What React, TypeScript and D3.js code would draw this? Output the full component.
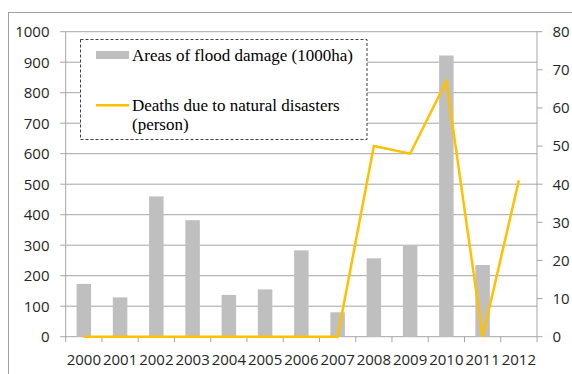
import React from "react";
import * as d3 from "d3";

const years = ["2000","2001","2002","2003","2004","2005","2006","2007","2008","2009","2010","2011","2012"];
const floodArea = [173, 129, 460, 382, 137, 155, 283, 80, 257, 298, 922, 235, 0];
const deaths = [0, 0, 0, 0, 0, 0, 0, 0, 50, 48, 67, 0, 41];
const leftTicks = [0, 100, 200, 300, 400, 500, 600, 700, 800, 900, 1000];
const rightTicks = [0, 10, 20, 30, 40, 50, 60, 70, 80];
const legendLabels = ["Areas of flood damage (1000ha)", "Deaths due to natural disasters", "(person)"];

const W = 572, H = 374;
const L = 65.7, R = 537, T = 31.7, B = 336.7;

export default function App() {
  const x = d3.scaleBand<string>().domain(years).range([L, R]).padding(0);
  const yL = d3.scaleLinear().domain([0, 1000]).range([B, T]);
  const yR = d3.scaleLinear().domain([0, 80]).range([B, T]);
  const bw = x.bandwidth() * 0.4;
  const line = d3.line<number>()
    .x((_, i) => (x(years[i]) as number) + x.bandwidth() / 2)
    .y((d) => yR(d));
  const axisFont = "'Open Sans', 'Liberation Sans', sans-serif";
  const serif = "'Liberation Serif', 'Times New Roman', serif";
  const gridColor = "#a6a6a6";
  const fs = 15;
  return (
    <div style={{ position: "absolute", left: 0, top: 0 }}>
      <svg width={W} height={H} style={{ display: "block" }}>
        <rect x={0} y={0} width={W} height={H} fill="#fff" />
        <rect x={8.5} y={12.5} width={W} height={H} fill="none" stroke="#a0a0a0" strokeWidth={1} />
        {leftTicks.filter((t) => t > 0).map((t) => (
          <line key={"g" + t} x1={L} x2={R} y1={yL(t)} y2={yL(t)} stroke={gridColor} strokeWidth={1} />
        ))}
        {/* axes */}
        <line x1={L} x2={L} y1={T} y2={B} stroke={gridColor} />
        <line x1={R} x2={R} y1={T} y2={B} stroke={gridColor} />
        <line x1={L} x2={R} y1={B} y2={B} stroke={gridColor} />
        {leftTicks.map((t) => (
          <g key={"lt" + t}>
            <line x1={L - 5.5} x2={L} y1={yL(t)} y2={yL(t)} stroke={gridColor} />
            <text x={49.5} y={yL(t)} dy="0.36em" textAnchor="end" fontFamily={axisFont} fontSize={fs} fill="#262626">{t}</text>
          </g>
        ))}
        {rightTicks.map((t) => (
          <g key={"rt" + t}>
            <line x1={R} x2={R + 5.5} y1={yR(t)} y2={yR(t)} stroke={gridColor} />
            <text x={552.5} y={yR(t)} dy="0.36em" textAnchor="start" fontFamily={axisFont} fontSize={fs} fill="#262626">{t}</text>
          </g>
        ))}
        {years.map((yr) => (
          <g key={"xt" + yr}>
            <line x1={x(yr) as number} x2={x(yr) as number} y1={B} y2={B + 5.5} stroke={gridColor} />
            <text x={(x(yr) as number) + x.bandwidth() / 2} y={365} textAnchor="middle" fontFamily={axisFont} fontSize={fs} fill="#262626">{yr}</text>
          </g>
        ))}
        <line x1={R} x2={R} y1={B} y2={B + 5.5} stroke={gridColor} />
        {/* bars */}
        {floodArea.map((v, i) => v > 0 ? (
          <rect key={"b" + i} x={(x(years[i]) as number) + x.bandwidth() / 2 - bw / 2} y={yL(v)} width={bw} height={B - yL(v)} fill="#bfbfbf" />
        ) : null)}
        {/* line */}
        <path d={line(deaths) || ""} fill="none" stroke="#ffc000" strokeWidth={2.5} strokeLinejoin="miter" />
        {/* legend */}
        <rect x={80.5} y={39.5} width={286.5} height={100} fill="#fff" stroke="#404040" strokeWidth={1} strokeDasharray="3,2" />
        <rect x={96} y={51} width={33} height={8} fill="#bfbfbf" />
        <text x={132} y={61} fontFamily={serif} fontSize={17} fill="#000">{legendLabels[0]}</text>
        <line x1={96} x2={129} y1={105.3} y2={105.3} stroke="#ffc000" strokeWidth={2.5} />
        <text x={132} y={111} fontFamily={serif} fontSize={17} fill="#000">{legendLabels[1]}</text>
        <text x={132} y={129.5} fontFamily={serif} fontSize={17} fill="#000">{legendLabels[2]}</text>
      </svg>
    </div>
  );
}
